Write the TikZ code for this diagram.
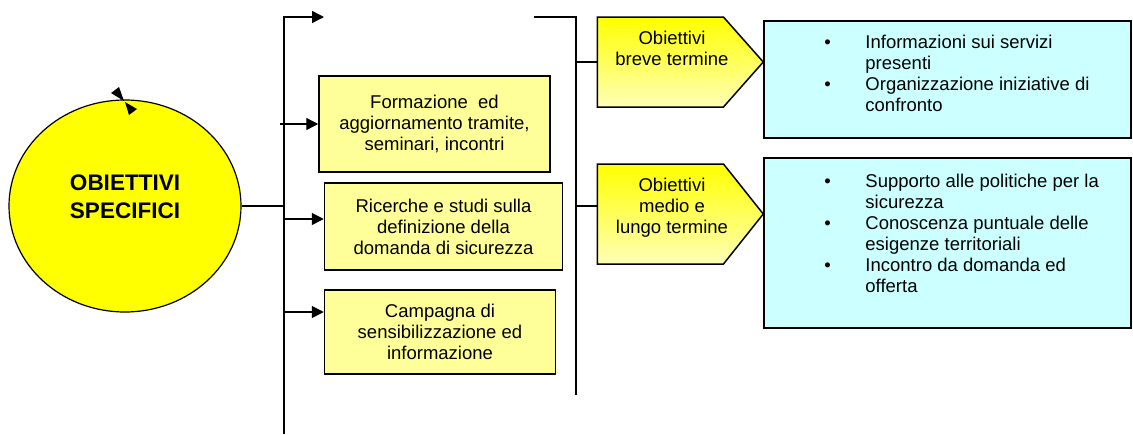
\documentclass[tikz,border=0pt]{standalone}
\usepackage{fontspec}
\setmainfont{Liberation Sans}
\usepackage{xcolor}
\usepackage{tikz}
\usetikzlibrary{arrows.meta,positioning,shapes.geometric,shapes.symbols,calc}
\definecolor{goalYellow}{HTML}{FFFF00}
\definecolor{boxYellow}{HTML}{FFFF99}
\definecolor{listCyan}{HTML}{CCFFFF}

\begin{document}
\begin{tikzpicture}[
    x=1pt, y=-1pt,
    goal/.style={ellipse, draw, line width=1.2pt, fill=goalYellow, minimum width=232pt, minimum height=212pt, inner sep=0pt},
    goaltext/.style={font=\fontsize{22.5}{28}\selectfont\bfseries, align=center, inner sep=0pt},
    action/.style={rectangle, draw, line width=1.5pt, fill=boxYellow, align=center, font=\fontsize{18.5}{21}\selectfont, inner sep=0pt},
    term/.style={signal, signal to=east, draw, line width=1.5pt, top color=goalYellow, bottom color=boxYellow!70, minimum width=166pt, inner sep=0pt, anchor=west},
    termtext/.style={font=\fontsize{18.5}{21}\selectfont, align=center, anchor=north, inner sep=0pt},
    result/.style={rectangle, draw, line width=1.5pt, fill=listCyan, minimum width=367pt, inner sep=0pt},
    itemlist/.style={font=\fontsize{18.5}{21}\selectfont, anchor=north west, inner sep=0pt},
    arrow/.style={-{Triangle[length=12pt,width=12pt]}, line width=1.4pt},
    link/.style={line width=1.4pt}
]
\useasboundingbox (0,0) rectangle (1133,434);

% Central goal
\node[goal] (specifici) at (125,206) {};
\node[goaltext] (specificitext) at (125,197) {OBIETTIVI\\SPECIFICI};
\fill (111,93) -- (119,87) -- (124,101) -- cycle;
\fill (137,109) -- (129,115) -- (125,102) -- cycle;

% Left bracket
\coordinate (bartop) at (284,17);
\coordinate (barbot) at (284,434);
\coordinate (topend) at (324,17);
\draw[link] (specifici.east) -- (specifici.east -| bartop);
\draw[arrow] (barbot) -- (bartop) -- (topend);

% Actions
\node[action, minimum width=231pt, minimum height=96pt] (formazione) at (434.5,124) {Formazione\ \ ed\\aggiornamento tramite,\\seminari, incontri};
\node[action, minimum width=238pt, minimum height=87pt] (ricerche) at (443.5,226.5) {Ricerche e studi sulla\\definizione della\\domanda di sicurezza};
\node[action, minimum width=231pt, minimum height=84pt] (campagna) at (440,332) {Campagna di\\sensibilizzazione ed\\informazione};

\draw[arrow] ([xshift=-4pt]bartop |- formazione.west) -- (formazione.west);
\draw[arrow] ([yshift=7.5pt]ricerche.west -| bartop) -- ([yshift=7.5pt]ricerche.west);
\draw[arrow] ([yshift=20pt]campagna.west -| bartop) -- ([yshift=20pt]campagna.west);

% Right bracket
\coordinate (splitstart) at (534,17);
\coordinate (splittop) at (576,17);
\coordinate (splitbot) at (576,395);
\draw[link] (splitstart) -- (splittop) -- (splitbot);

% Terms
\node[term, minimum height=90pt, signal pointer angle=97] (breve) at (596.5,62) {};
\node[termtext] (brevetext) at ($(breve.west)+(75.5,-30.8)$) {Obiettivi\\breve termine};
\node[term, minimum height=100pt, signal pointer angle=103] (medio) at (596.5,214) {};
\node[termtext] (mediotext) at ($(medio.west)+(75.5,-35.8)$) {Obiettivi\\medio e\\lungo termine};

\draw[link] (breve.west -| splittop) -- (breve.west);
\draw[link] ([yshift=8pt]medio.west -| splittop) -- ([yshift=8pt]medio.west);

% Results
\node[result, minimum height=117pt] (servizi) at (947.5,79.5) {};
\node[result, minimum height=170pt] (politiche) at (947.5,243) {};

\node[itemlist] (servizilist) at ($(servizi.north west)+(61,13)$) {%
  \begin{tabular}{@{}p{41pt}@{}l@{}}
  \textbullet & Informazioni sui servizi\\
   & presenti\\
  \textbullet & Organizzazione iniziative di\\
   & confronto
  \end{tabular}};
\node[itemlist] (politichelist) at ($(politiche.north west)+(61,15)$) {%
  \begin{tabular}{@{}p{41pt}@{}l@{}}
  \textbullet & Supporto alle politiche per la\\
   & sicurezza\\
  \textbullet & Conoscenza puntuale delle\\
   & esigenze territoriali\\
  \textbullet & Incontro da domanda ed\\
   & offerta
  \end{tabular}};

\end{tikzpicture}
\end{document}
